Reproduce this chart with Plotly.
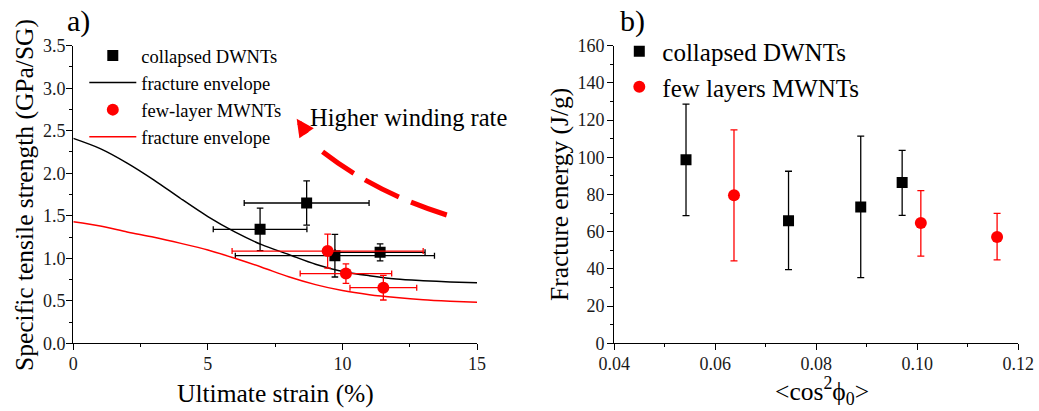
import plotly.graph_objects as go

# ---------------- Panel a data ----------------
dwnt_strain = [6.94, 8.67, 9.72, 11.40]
dwnt_strength = [1.34, 1.65, 1.03, 1.07]
dwnt_strain_err = [1.74, 2.32, 3.70, 1.67]
dwnt_strength_err = [0.25, 0.26, 0.25, 0.10]

mwnt_strain = [9.45, 10.13, 11.52]
mwnt_strength = [1.085, 0.82, 0.654]
mwnt_strain_err = [3.55, 1.70, 1.24]
mwnt_strength_err = [0.20, 0.115, 0.145]

env_strain = [0, 1, 2, 3, 4, 5, 6, 7, 8, 9, 10, 11, 12, 13, 14, 15]
dwnt_envelope = [2.41, 2.29, 2.12, 1.92, 1.70, 1.49, 1.31, 1.16, 1.045, 0.93,
                 0.845, 0.795, 0.757, 0.737, 0.722, 0.712]
mwnt_envelope = [1.43, 1.38, 1.31, 1.247, 1.175, 1.097, 1.0, 0.895, 0.782, 0.69,
                 0.62, 0.572, 0.538, 0.512, 0.495, 0.482]

# ---------------- Panel b data ----------------
dwnt_cos2 = [0.0542, 0.0745, 0.0888, 0.0970]
dwnt_energy = [98.7, 65.9, 73.3, 86.4]
dwnt_energy_err_plus = [29.9, 26.6, 38.1, 17.3]
dwnt_energy_err_minus = [30.1, 26.3, 38.0, 17.6]

mwnt_cos2 = [0.0637, 0.1007, 0.1158]
mwnt_energy = [79.6, 64.7, 57.2]
mwnt_energy_err_plus = [35.1, 17.4, 12.7]
mwnt_energy_err_minus = [35.3, 17.8, 12.4]

# ---------------- styling ----------------
W, H = 1039, 411
FONT = "Liberation Serif"
RED = "#ff0000"
BLACK = "#000000"
TICKCOL = "#1a1a1a"


def px_x(p):
    return p / W


def px_y(p):
    return 1 - p / H


fig = go.Figure()

# Panel a traces
fig.add_trace(go.Scatter(
    x=dwnt_strain, y=dwnt_strength, mode="markers", name="collapsed DWNTs",
    marker=dict(symbol="square", size=11, color=BLACK),
    error_x=dict(type="data", array=dwnt_strain_err, color=BLACK, thickness=1.3, width=3),
    error_y=dict(type="data", array=dwnt_strength_err, color=BLACK, thickness=1.3, width=3.3),
    xaxis="x", yaxis="y", legend="legend"))
fig.add_trace(go.Scatter(
    x=env_strain, y=dwnt_envelope, mode="lines", name="fracture envelope",
    line=dict(color=BLACK, width=1.5, shape="spline", smoothing=0.8),
    xaxis="x", yaxis="y", legend="legend"))
fig.add_trace(go.Scatter(
    x=mwnt_strain, y=mwnt_strength, mode="markers", name="few-layer MWNTs",
    marker=dict(symbol="circle", size=12, color=RED),
    error_x=dict(type="data", array=mwnt_strain_err, color=RED, thickness=1.3, width=3),
    error_y=dict(type="data", array=mwnt_strength_err, color=RED, thickness=1.3, width=3.3),
    xaxis="x", yaxis="y", legend="legend"))
fig.add_trace(go.Scatter(
    x=env_strain, y=mwnt_envelope, mode="lines", name="fracture envelope",
    line=dict(color=RED, width=1.5, shape="spline", smoothing=0.8),
    xaxis="x", yaxis="y", legend="legend"))

# Panel b traces
fig.add_trace(go.Scatter(
    x=dwnt_cos2, y=dwnt_energy, mode="markers", name="collapsed DWNTs",
    marker=dict(symbol="square", size=11, color=BLACK),
    error_y=dict(type="data", array=dwnt_energy_err_plus, arrayminus=dwnt_energy_err_minus,
                 color=BLACK, thickness=1.3, width=3.5),
    xaxis="x2", yaxis="y2", legend="legend2"))
fig.add_trace(go.Scatter(
    x=mwnt_cos2, y=mwnt_energy, mode="markers", name="few layers MWNTs",
    marker=dict(symbol="circle", size=12, color=RED),
    error_y=dict(type="data", array=mwnt_energy_err_plus, arrayminus=mwnt_energy_err_minus,
                 color=RED, thickness=1.3, width=3.5),
    xaxis="x2", yaxis="y2", legend="legend2"))

ydom = [px_y(343.3), px_y(45.7)]
axis_common = dict(
    showline=True, linecolor=BLACK, linewidth=1.3, mirror=False,
    showgrid=False, zeroline=False, automargin=False,
    ticks="outside", ticklen=6, tickwidth=1.2, tickcolor=BLACK,
    tickfont=dict(family=FONT, size=18, color=TICKCOL),
)
minor_common = dict(ticklen=3, ticks="outside", tickcolor=BLACK, tickwidth=1.2, showgrid=False)

fig.update_layout(
    template="none",
    width=W, height=H,
    font=dict(family=FONT, color=BLACK),
    margin=dict(l=0, r=0, t=0, b=0, pad=0, autoexpand=False),
    paper_bgcolor="white", plot_bgcolor="white",
    xaxis=dict(domain=[px_x(73.3), px_x(477)], range=[0, 15], dtick=5, tick0=0,
               minor=dict(dtick=2.5, **minor_common), ticklabelstandoff=-2,
               anchor="y", **axis_common),
    yaxis=dict(domain=ydom, range=[0, 3.5], dtick=0.5, tick0=0, tickformat=".1f",
               minor=dict(dtick=0.25, **minor_common), ticklabelstandoff=-3,
               anchor="x", **axis_common),
    xaxis2=dict(domain=[px_x(614.3), px_x(1018.3)], range=[0.04, 0.12], dtick=0.02, tick0=0.04,
                tickformat=".2f", ticklabelstandoff=-2,
                minor=dict(dtick=0.01, **minor_common),
                anchor="y2", **axis_common),
    yaxis2=dict(domain=ydom, range=[0, 160], dtick=20, tick0=0,
                minor=dict(dtick=10, **minor_common), ticklabelstandoff=-1,
                anchor="x2", **axis_common),
    legend=dict(x=px_x(84.3), y=px_y(37), xanchor="left", yanchor="top",
                bgcolor="rgba(0,0,0,0)", borderwidth=0, itemwidth=47,
                font=dict(family=FONT, size=18.5, color=BLACK)),
    legend2=dict(x=px_x(616.3), y=px_y(28.5), xanchor="left", yanchor="top",
                 bgcolor="rgba(0,0,0,0)", borderwidth=0, itemwidth=36,
                 font=dict(family=FONT, size=25, color=BLACK)),
    showlegend=True,
)

# dashed curved arrow ("Higher winding rate")
arrow_start = (13.876, 1.509)
arrow_ctrl = (11.137, 1.781)
arrow_end = (9.142, 2.282)
arrow_tip = (8.30, 2.64)
fig.add_shape(type="path", xref="x", yref="y",
              path=f"M {arrow_start[0]},{arrow_start[1]} Q {arrow_ctrl[0]},{arrow_ctrl[1]} {arrow_end[0]},{arrow_end[1]}",
              line=dict(color=RED, width=5, dash="38px,13px"))
fig.add_annotation(x=arrow_tip[0], y=arrow_tip[1], xref="x", yref="y",
                   ax=11, ay=16, text="", showarrow=True,
                   arrowhead=2, arrowsize=0.7, arrowwidth=5, arrowcolor=RED)

title_font = dict(family=FONT, size=25.5, color=BLACK)
annots = [
    dict(text="a)", x=px_x(65), y=px_y(21), xanchor="left", yanchor="middle",
         font=dict(family=FONT, size=30, color=BLACK)),
    dict(text="b)", x=px_x(618), y=px_y(21), xanchor="left", yanchor="middle",
         font=dict(family=FONT, size=30, color=BLACK)),
    dict(text="Higher winding rate", x=px_x(308), y=px_y(117), xanchor="left", yanchor="middle",
         font=dict(family=FONT, size=24.5, color=BLACK)),
    dict(text="Ultimate strain (%)", x=px_x(275), y=px_y(393), xanchor="center", yanchor="middle",
         font=title_font),
    dict(text="Specific tensile strength (GPa/SG)", x=px_x(24), y=px_y(195), xanchor="center",
         yanchor="middle", textangle=-90, font=title_font),
    dict(text="Fracture energy (J/g)", x=px_x(559), y=px_y(195), xanchor="center",
         yanchor="middle", textangle=-90, font=title_font),
    dict(text="&lt;cos<sup>2</sup>ϕ<sub>0</sub>&gt;", x=px_x(822), y=px_y(391), xanchor="center",
         yanchor="middle", font=title_font),
]
for a in annots:
    fig.add_annotation(xref="paper", yref="paper", showarrow=False, **a)

fig.write_html("out.html", config={"displayModeBar": False},
               post_script="document.body.style.margin='0px';document.body.style.padding='0px';")
